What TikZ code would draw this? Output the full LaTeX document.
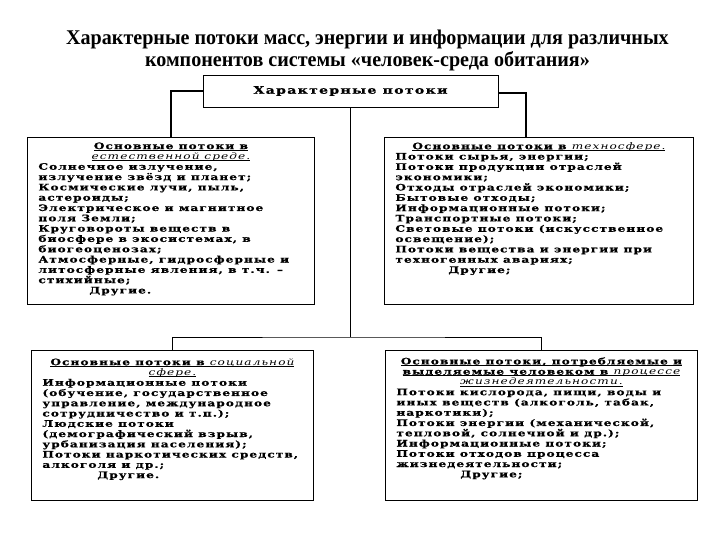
\documentclass[tikz,border=0pt]{standalone}
\usepackage{fontspec}
\setmainfont{Liberation Serif}
\newfontfamily\titlefont{Liberation Serif}[FakeStretch=0.96]
\newfontfamily\boxfont{DejaVu Serif}[FakeStretch=1.35, LetterSpace=12,
  BoldFeatures={FakeBold=0.8}]

% fixed-size text block inside a box
\newcommand{\flowtext}[4][0bp]{\parbox[c][#3][t]{#2}{\parskip=0pt\lineskiplimit=-\maxdimen
  \vspace*{#1}\raggedright\leftskip=7bp #4}}
% underline that keeps the line spacing
\newcommand{\ul}[1]{\leavevmode\setbox0\hbox{#1}\rlap{\rule[-1.4bp]{\wd0}{0.6bp}}\box0}

\begin{document}
\begin{tikzpicture}[x=1bp, y=-1bp,
  title/.style={font=\titlefont\bfseries\fontsize{21}{23}\selectfont, align=center},
  headbox/.style={draw, line width=0.6pt, minimum width=295bp, minimum height=32bp,
                  font=\boxfont\bfseries\fontsize{10.5}{12}\selectfont},
  flowbox/.style={draw, line width=0.9pt, anchor=north west,
                  inner xsep=4bp, inner ysep=3bp,
                  font=\boxfont\bfseries\fontsize{9}{10.35}\selectfont},
  lowbox/.style={flowbox, font=\boxfont\bfseries\fontsize{9}{10.3}\selectfont},
  link/.style={line width=1.2pt},
  thin/.style={line width=0.8pt}
]
  \useasboundingbox (0,0) rectangle (720,540);

  \node[title] (title) at (367.5,50.5)
    {Характерные потоки масс, энергии и информации для различных\\
     компонентов системы «человек-среда обитания»};

  \node[headbox] (flows) at (350.5,91) {Характерные потоки};

  \node[flowbox] (natural) at (27,137) {\flowtext[2bp]{279bp}{161bp}{%
    {\centering\ul{Основные потоки в}\\
     \ul{\mdseries\itshape естественной среде.}\par}
    Солнечное излучение,\\
    излучение звёзд и планет;\\
    Космические лучи, пыль,\\
    астероиды;\\
    Электрическое и магнитное\\
    поля Земли;\\
    Круговороты веществ в\\
    биосфере в экосистемах, в\\
    биогеоценозах;\\
    Атмосферные, гидросферные и\\
    литосферные явления, в т.ч. –\\
    стихийные;\\
    \hspace*{51bp}Другие.}};

  \node[flowbox] (techno) at (384,137) {\flowtext[2bp]{301bp}{161bp}{%
    {\centering\ul{Основные потоки в \mdseries\itshape техносфере.}\par}
    Потоки сырья, энергии;\\
    Потоки продукции отраслей\\
    экономики;\\
    Отходы отраслей экономики;\\
    Бытовые отходы;\\
    Информационные потоки;\\
    Транспортные потоки;\\
    Световые потоки (искусственное\\
    освещение);\\
    Потоки вещества и энергии при\\
    техногенных авариях;\\
    \hspace*{53bp}Другие;}};

  \node[lowbox] (social) at (31,350) {\flowtext[5bp]{274bp}{144bp}{%
    {\centering\ul{Основные потоки в \mdseries\itshape социальной}\\
     \ul{\mdseries\itshape сфере.}\par}
    Информационные потоки\\
    (обучение, государственное\\
    управление, международное\\
    сотрудничество и т.п.);\\
    Людские потоки\\
    (демографический взрыв,\\
    урбанизация населения);\\
    Потоки наркотических средств,\\
    алкоголя и др.;\\
    \hspace*{55bp}Другие.}};

  \node[lowbox] (human) at (385,350) {\flowtext[4bp]{304bp}{144bp}{%
    {\centering\ul{Основные потоки, потребляемые и}\\
     \ul{выделяемые человеком в \mdseries\itshape процессе}\\
     \ul{\mdseries\itshape жизнедеятельности.}\par}
    Потоки кислорода, пищи, воды и\\
    иных веществ (алкоголь, табак,\\
    наркотики);\\
    Потоки энергии (механической,\\
    тепловой, солнечной и др.);\\
    Информационные потоки;\\
    Потоки отходов процесса\\
    жизнедеятельности;\\
    \hspace*{64bp}Другие;}};

  \coordinate (split) at (flows.south |- 0,337);

  % edges
  \draw[link] (flows.west) -| (natural.north);
  \draw[link] ([yshift=-2bp]flows.east) -| ([xshift=-13bp]techno.north);
  \draw[link] (flows.south) -- (split);
  \draw[thin] (social.north) |- (split) -| (human.north);
\end{tikzpicture}
\end{document}
